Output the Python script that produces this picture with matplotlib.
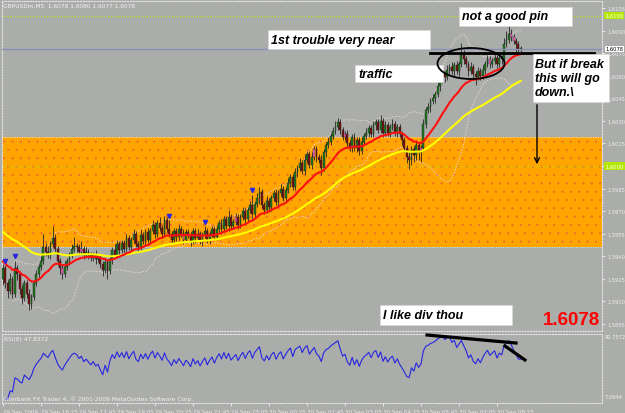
import numpy as np
import pandas as pd
import matplotlib
matplotlib.use("Agg")
import matplotlib.pyplot as plt
from matplotlib.patches import Rectangle, Ellipse, FancyArrowPatch
from matplotlib.lines import Line2D

W, H = 625, 414

# GBPUSDm M5 closes, 29 Sep 15:05 -> 30 Sep ~09:15
closes = [
    1.5932, 1.5922, 1.5917, 1.5925, 1.5915, 1.5932, 1.5928, 1.5918, 1.5912, 1.5922,
    1.5915, 1.5908, 1.5913, 1.5922, 1.5928, 1.5933, 1.5937, 1.5946, 1.5943, 1.5941,
    1.5948, 1.5952, 1.5945, 1.5937, 1.5932, 1.5928, 1.5933, 1.5937, 1.5941, 1.5945,
    1.5947, 1.5946, 1.5943, 1.5945, 1.5941, 1.5943, 1.5941, 1.5939, 1.5941, 1.5938,
    1.5939, 1.5935, 1.5931, 1.5936, 1.5930, 1.5938, 1.5944, 1.5941, 1.5948, 1.5944,
    1.5949, 1.5945, 1.5952, 1.5946, 1.5951, 1.5955, 1.5948, 1.5946, 1.5954, 1.5950,
    1.5956, 1.5951, 1.5957, 1.5961, 1.5955, 1.5962, 1.5959, 1.5955, 1.5964, 1.5958,
    1.5955, 1.5951, 1.5957, 1.5953, 1.5958, 1.5955, 1.5951, 1.5956, 1.5954, 1.5950,
    1.5957, 1.5952, 1.5955, 1.5950, 1.5954, 1.5957, 1.5951, 1.5955, 1.5958, 1.5953,
    1.5958, 1.5962, 1.5958, 1.5965, 1.5960, 1.5966, 1.5960, 1.5963, 1.5966, 1.5961,
    1.5966, 1.5970, 1.5965, 1.5971, 1.5974, 1.5968, 1.5975, 1.5979, 1.5983, 1.5974,
    1.5971, 1.5977, 1.5973, 1.5979, 1.5982, 1.5976, 1.5982, 1.5985, 1.5979, 1.5984,
    1.5989, 1.5993, 1.5986, 1.5996, 1.5999, 1.6002, 1.5997, 1.6004, 1.6008, 1.6001,
    1.6006, 1.6011, 1.6006, 1.6004, 1.5999, 1.6009, 1.6014, 1.6016, 1.6020, 1.6023,
    1.6026, 1.6029, 1.6024, 1.6019, 1.6021, 1.6015, 1.6012, 1.6019, 1.6012, 1.6017,
    1.6010, 1.6016, 1.6020, 1.6022, 1.6025, 1.6021, 1.6027, 1.6029, 1.6024, 1.6030,
    1.6022, 1.6027, 1.6022, 1.6026, 1.6028, 1.6022, 1.6026, 1.6021, 1.6017, 1.6012,
    1.6006, 1.6004, 1.6011, 1.6007, 1.6014, 1.6009, 1.6012, 1.6028, 1.6037, 1.6039,
    1.6043, 1.6045, 1.6048, 1.6053, 1.6057, 1.6061, 1.6059, 1.6064, 1.6066, 1.6063,
    1.6067, 1.6063, 1.6068, 1.6074, 1.6071, 1.6068, 1.6063, 1.6066, 1.6061, 1.6059,
    1.6063, 1.6060, 1.6064, 1.6068, 1.6071, 1.6068, 1.6070, 1.6072, 1.6068, 1.6072,
    1.6071, 1.6081, 1.6084, 1.6088, 1.6086, 1.6083, 1.6081, 1.6078, 1.6078,
]
first_open = 1.5925

# wick lengths in pips above / below the body
up_wick = [
    3, 2, 2, 4, 2, 5, 2, 2, 3, 2,  2, 3, 2, 2, 3, 2, 3, 9, 3, 4,
    2, 8, 3, 2, 2, 3, 4, 2, 2, 3,  6, 2, 2, 5, 2, 3, 2, 2, 2, 3,
    2, 2, 2, 3, 2, 3, 2, 4, 3, 2,  2, 2, 3, 2, 2, 3, 2, 2, 4, 2,
    2, 3, 2, 3, 2, 2, 4, 2, 3, 2,  6, 2, 2, 2, 3, 2, 3, 2, 2, 2,
    2, 2, 3, 2, 2, 3, 2, 2, 2, 2,  3, 2, 3, 2, 2, 5, 2, 2, 3, 2,
    2, 3, 2, 2, 3, 7, 2, 3, 3, 2,  2, 3, 2, 2, 2, 3, 2, 3, 2, 2,
    3, 2, 2, 3, 2, 3, 2, 4, 2, 2,  3, 2, 2, 2, 3, 2, 2, 3, 2, 3,
    4, 3, 2, 2, 2, 3, 2, 2, 3, 2,  2, 3, 2, 3, 2, 2, 3, 2, 2, 4,
    2, 3, 2, 2, 3, 2, 2, 2, 2, 2,  2, 3, 2, 2, 3, 2, 2, 3, 2, 3,
    2, 3, 2, 3, 2, 4, 2, 3, 2, 3,  2, 3, 2, 8, 3, 2, 2, 3, 2, 2,
    3, 2, 3, 2, 3, 2, 2, 3, 2, 3,  2, 4, 6, 7, 3, 2, 2, 2, 2,
]
dn_wick = [
    4, 3, 5, 2, 3, 2, 4, 3, 4, 2,  3, 4, 3, 2, 2, 3, 2, 2, 3, 2,
    3, 2, 2, 3, 4, 3, 2, 2, 3, 2,  2, 3, 2, 2, 3, 2, 3, 2, 2, 3,
    2, 3, 4, 2, 5, 2, 3, 2, 2, 3,  2, 3, 2, 2, 3, 2, 2, 3, 2, 2,
    3, 2, 2, 2, 3, 2, 2, 3, 2, 2,  2, 3, 2, 3, 2, 2, 3, 2, 2, 3,
    2, 3, 2, 2, 3, 2, 2, 3, 2, 2,  2, 2, 3, 2, 2, 3, 2, 2, 2, 3,
    2, 2, 3, 2, 2, 3, 2, 2, 4, 2,  3, 2, 2, 3, 2, 2, 3, 2, 2, 3,
    2, 3, 2, 2, 3, 2, 2, 3, 2, 2,  3, 2, 3, 2, 5, 2, 3, 2, 2, 2,
    2, 2, 3, 2, 2, 3, 2, 3, 2, 3,  3, 2, 2, 2, 3, 2, 2, 3, 2, 2,
    3, 2, 2, 3, 2, 2, 3, 2, 3, 3,  4, 6, 3, 4, 3, 5, 6, 2, 3, 2,
    3, 2, 3, 2, 3, 2, 3, 2, 3, 2,  3, 2, 3, 2, 3, 2, 3, 2, 3, 5,
    2, 3, 2, 3, 2, 3, 2, 2, 3, 2,  3, 2, 2, 2, 3, 2, 6, 3, 2,
]
pink_bars = [25, 33, 76, 98, 131, 144, 176, 205, 214, 215]
fractal_bars = [1, 5, 70, 85, 105]

zone_low, zone_high = 1.5946, 1.6019
green_levels = [1.6100, 1.6000]
bid = 1.6078
trouble_level = 1.6075
trouble_bars = (180, 249)

price_ticks = [1.6105, 1.6090, 1.6075, 1.6060, 1.6045, 1.6030, 1.6015, 1.6000,
               1.5985, 1.5970, 1.5955, 1.5940, 1.5925, 1.5910, 1.5895]
time_labels = ["29 Sep 2009", "29 Sep 16:25", "29 Sep 17:45", "29 Sep 19:05",
               "29 Sep 20:25", "29 Sep 21:45", "29 Sep 23:05", "30 Sep 00:25",
               "30 Sep 01:45", "30 Sep 03:05", "30 Sep 04:25", "30 Sep 05:45",
               "30 Sep 07:05", "30 Sep 08:25"]

BG = "#ABADAA"
GRID = "#E4E4E4"

c = pd.Series(closes)
o = pd.Series([first_open] + closes[:-1])
pip = 0.0001
hi = np.maximum(o, c) + np.array(up_wick) * pip
lo = np.minimum(o, c) - np.array(dn_wick) * pip
x = np.arange(len(closes))

ema_red = pd.Series([1.5937] + closes).ewm(span=20, adjust=False).mean()[1:].values
ema_yel = pd.Series([1.5957] + closes).ewm(span=55, adjust=False).mean()[1:].values
mid = c.rolling(20, min_periods=5).mean()
sd = c.rolling(20, min_periods=5).std(ddof=0)

d = c.diff()
gain = d.clip(lower=0).ewm(alpha=1 / 8, adjust=False).mean()
loss = (-d.clip(upper=0)).ewm(alpha=1 / 8, adjust=False).mean()
rsi = (100 - 100 / (1 + gain / loss))[1:]

fig = plt.figure(figsize=(W / 100, H / 100), dpi=100, facecolor=BG)


def fx(px):
    return px / W


def fy(py):
    return 1 - py / H


xl = ((2 - 3) / 2.375, (602 - 3) / 2.375)

ax = fig.add_axes([fx(2), fy(332), 600 / W, 330 / H], facecolor=BG)
ax.set_xlim(*xl)
ax.set_ylim(1.6111 - 332 * 0.00006646, 1.6111 - 2 * 0.00006646)

plt.rcParams["hatch.linewidth"] = 0.35
ax.add_patch(Rectangle((xl[0], zone_low), xl[1] - xl[0], zone_high - zone_low,
                       facecolor="#FFA500", edgecolor="#EC6A2C", hatch="..",
                       lw=0, zorder=1))
for lv in (zone_low, zone_high):
    ax.axhline(lv, color=GRID, ls=(0, (1, 1.5)), lw=0.7, zorder=1.5)
for lv in green_levels:
    ax.axhline(lv, color="#B4E800", ls=(0, (1, 1.5)), lw=0.8, zorder=1.5)

ax.plot(x, mid + 2 * sd, color="#E8D4D4", ls=(0, (1.5, 1.5)), lw=0.7, zorder=2)
ax.plot(x, mid - 2 * sd, color="#E8D4D4", ls=(0, (1.5, 1.5)), lw=0.7, zorder=2)

ax.vlines(x, lo, hi, color="#262626", lw=0.6, zorder=3)
bull = (c >= o).values
cols = np.where(bull, "#1E7B1E", "#7A1010").astype(object)
for i in pink_bars:
    cols[i] = "#FF66CC"
ax.bar(x, (c - o).abs().clip(lower=0.00004), bottom=np.minimum(o, c),
       width=0.8, color=list(cols), edgecolor="#202020", lw=0.3, zorder=4)

ax.plot(x, ema_yel, color="#FFFF00", lw=1.5, zorder=5)
ax.plot(x, ema_red, color="#FF1010", lw=1.5, zorder=5)
ax.plot(fractal_bars, hi[fractal_bars] + 3 * pip, ls="none", marker="v",
        ms=3, color="#2828E0", zorder=6)

ax.axhline(bid, color="#8A8FB8", lw=1, zorder=6)
ax.plot(trouble_bars, [trouble_level] * 2, color="black", lw=2, zorder=6)

ax.yaxis.tick_right()
ax.set_yticks(price_ticks)
ax.set_yticklabels([f"{p:.4f}" for p in price_ticks])
ax.tick_params(axis="y", length=2.5, color=GRID, labelcolor="#EDEDED",
               labelsize=3.7, pad=1.5)
ax.set_xticks([])
for s in ax.spines.values():
    s.set_color(GRID)
    s.set_linestyle((0, (1, 1.5)))
    s.set_linewidth(0.8)

# right-edge price boxes
tr = ax.get_yaxis_transform()
for lv in green_levels:
    ax.text(1.005, lv, f"{lv:.4f}", transform=tr, fontsize=3.7, color="white",
            va="center", ha="left", zorder=8,
            bbox=dict(boxstyle="square,pad=0.25", fc="#B4E800", ec="none"))
ax.text(1.005, bid, f"{bid:.4f}", transform=tr, fontsize=3.7, color="black",
        va="center", ha="left", zorder=8,
        bbox=dict(boxstyle="square,pad=0.25", fc="white", ec="#888888", lw=0.4))

# RSI panel
ax2 = fig.add_axes([fx(2), fy(404), 600 / W, 69 / H], facecolor=BG)
ax2.set_xlim(*xl)
r_lo, r_hi = rsi.min(), rsi.max()
rr = r_hi - r_lo
ax2.set_ylim(r_lo - 4 / 63 * rr, r_hi + 2 / 63 * rr)
ax2.plot(x[1:], rsi.values, color="#2626E0", lw=0.8)
ax2.set_yticks([])
ax2.set_xticks(x[::16][:len(time_labels)])
ax2.set_xticklabels(time_labels, ha="left")
ax2.tick_params(axis="x", length=2.5, color=GRID, labelcolor="#EDEDED",
                labelsize=4, pad=1.5)
for s in ax2.spines.values():
    s.set_color(GRID)
    s.set_linestyle((0, (1, 1.5)))
    s.set_linewidth(0.8)

small = dict(fontsize=4.2, color="#F2F2F2", va="center", ha="left",
             family="DejaVu Sans")
fig.text(fx(3), fy(6), "GBPUSDm,M5  1.6078 1.6080 1.6077 1.6078", **small)
fig.text(fx(4), fy(340), "RSI(8) 47.8372", **small)
fig.text(fx(3), fy(399),
         "Interbank FX Trader 4, \u00a9 2001-2009 MetaQuotes Software Corp.", **small)
fig.text(fx(605), fy(338), "92.7572", fontsize=3.7, color="#F2F2F2",
         va="center", ha="left")
fig.text(fx(605), fy(398), "7.0944", fontsize=3.7, color="#F2F2F2",
         va="center", ha="left")

# hand-drawn notes
note = dict(fontsize=9, fontweight="bold", fontstyle="italic",
            family="Liberation Sans", color="black", va="center", ha="left")
boxes = [
    ((268, 31, 430, 50), "1st trouble very near", (271, 41)),
    ((459, 8, 572, 27), "not a good pin", (462, 17)),
    ((355, 66, 443, 83), "traffic", (358, 75)),
    ((533, 55, 609, 103), "But if break\nthis will go\ndown.\\", (535, 79)),
    ((380, 306, 512, 326), "I like div thou", (383, 316)),
]
for (x0, y0, x1, y1), txt, (tx, ty) in boxes:
    fig.add_artist(Rectangle((fx(x0), fy(y1)), (x1 - x0) / W, (y1 - y0) / H,
                             transform=fig.transFigure, fc="white",
                             ec="#D8D8D8", lw=0.5, zorder=9))
    fig.text(fx(tx), fy(ty), txt, linespacing=1.25, zorder=10, **note)

fig.text(fx(543), fy(321), "1.6078", fontsize=13.5, fontweight="bold",
         family="Liberation Sans", color="#FF0000", va="center", ha="left",
         zorder=10)

fig.add_artist(Ellipse((fx(471), fy(64.5)), 67 / W, 31 / H,
                       transform=fig.transFigure, fill=False, ec="black",
                       lw=1.3, zorder=9))
fig.add_artist(FancyArrowPatch((fx(537), fy(103)), (fx(537), fy(168)),
                               transform=fig.transFigure, arrowstyle="->",
                               mutation_scale=9, color="black", lw=1, zorder=9))
fig.add_artist(Line2D([fx(427), fx(516)], [fy(336), fy(344)],
                      transform=fig.transFigure, color="black", lw=2.3, zorder=9))
fig.add_artist(Line2D([fx(505), fx(525)], [fy(347), fy(361)],
                      transform=fig.transFigure, color="black", lw=2.3, zorder=9))

fig.savefig("out.png", dpi=100, facecolor=BG)
